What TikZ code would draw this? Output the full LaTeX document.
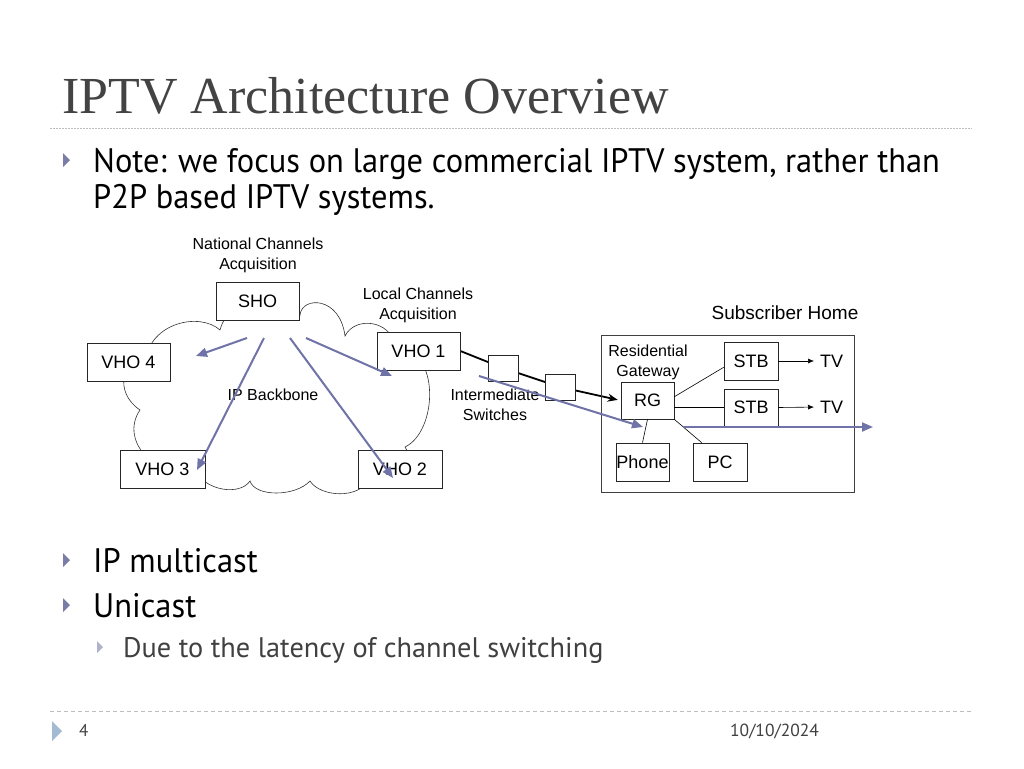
\documentclass[tikz,border=0pt]{standalone}
\usepackage{fontspec}
\setmainfont{Liberation Serif}
\newfontfamily\bodyf[FakeStretch=0.955]{PT Sans}
\newfontfamily\subf{PT Sans}
\newfontfamily\diaf{Liberation Sans}
\usetikzlibrary{arrows.meta,calc,backgrounds}
\definecolor{titlegray}{HTML}{434343}
\definecolor{bulletc}{HTML}{7A7EA6}
\definecolor{arrowc}{HTML}{6F73A8}
\definecolor{subgray}{HTML}{404040}
\definecolor{footc}{HTML}{A3BAD3}
\definecolor{rulec}{HTML}{BDBDBD}
\begin{document}
\begin{tikzpicture}[x=1pt,y=-1pt,
  box/.style={draw=black!85, line width=0.7pt, fill=white, inner sep=0pt,
    font=\diaf\fontsize{18}{20}\selectfont},
  lbl/.style={font=\diaf\fontsize{16}{20}\selectfont, align=center, inner sep=0pt},
  marrow/.style={draw=arrowc, line width=2pt, -{Triangle[length=11pt,width=9pt]}},
  thinline/.style={draw=black, line width=0.6pt},
  bodytxt/.style={font=\bodyf\fontsize{34}{40}\selectfont, anchor=base west, inner sep=0pt},
  bullet/.style={fill=bulletc}
]
\useasboundingbox (0,0) rectangle (1024,768);

% title
\node[anchor=base west, inner sep=0pt, text=titlegray, font=\fontsize{52}{56}\selectfont] (title) at (62,113) {IPTV Architecture Overview};
\draw[rulec, line width=0.8pt, dash pattern=on 1.5pt off 1.5pt] (50,128) -- (972,128);

% top bullet
\fill[bullet] (63,153) -- (70,160) -- (63,167) -- cycle;
\node[bodytxt] (note1) at (93,172) {Note: we focus on large commercial IPTV system, rather than};
\node[bodytxt] (note2) at (93,208) {P2P based IPTV systems.};

% cloud
\draw[black!80, line width=0.6pt]
  (145,362) .. controls (150,322) and (200,312) .. (220,330)
  .. controls (230,292) and (290,282) .. (300,315)
  .. controls (302,296) and (340,296) .. (345,336)
  .. controls (355,316) and (390,320) .. (395,345)
  .. controls (442,350) and (437,432) .. (405,447)
  .. controls (420,470) and (400,492) .. (370,478)
  .. controls (360,500) and (320,497) .. (310,481)
  .. controls (295,497) and (255,497) .. (250,481)
  .. controls (240,496) and (205,491) .. (195,470)
  .. controls (160,482) and (118,442) .. (140,410)
  .. controls (113,392) and (123,357) .. (145,362) -- cycle;

% labels
\node[lbl] (natl) at (258,255) {National Channels\\Acquisition};
\node[lbl] (local) at (418,305) {Local Channels\\Acquisition};
\node[lbl] (ipb) at (273,395) {IP Backbone};
\node[lbl] (inter) at (495,405) {Intermediate\\Switches};
\node[lbl, font=\diaf\fontsize{19}{22}\selectfont] (subs) at (785,313) {Subscriber Home};

% boxes
\node[box, minimum width=83pt, minimum height=38pt] (sho) at (257.5,301) {SHO};
\node[box, minimum width=83pt, minimum height=38pt] (vho4) at (128.5,362) {VHO 4};
\node[box, minimum width=83pt, minimum height=38pt] (vho1) at (418.5,351) {VHO 1};
\node[box, minimum width=85pt, minimum height=38pt] (vho3) at (162.5,469) {VHO 3};
\node[box, minimum width=84pt, minimum height=38pt] (vho2) at (400,469) {VHO 2};
\node[box, minimum width=30pt, minimum height=26pt] (sw1) at (503,368) {};
\node[box, minimum width=30pt, minimum height=26pt] (sw2) at (560,387) {};

% subscriber home
\node[draw=black!75, line width=0.7pt, minimum width=253pt, minimum height=157pt, inner sep=0pt] (home) at (727.5,413.5) {};
\node[lbl] (resg) at (648,362) {Residential\\Gateway};
\node[box, minimum width=53pt, minimum height=37pt] (rg) at (647.5,400.5) {RG};
\node[box, minimum width=54pt, minimum height=38pt] (stb1) at (751,361) {STB};
\node[box, minimum width=54pt, minimum height=37pt] (stb2) at (751,407.5) {STB};
\node[box, minimum width=53pt, minimum height=38pt] (phone) at (642.5,462) {Phone};
\node[box, minimum width=54pt, minimum height=38pt] (pc) at (720,462) {PC};
\node[font=\diaf\fontsize{18}{20}\selectfont, anchor=west, inner sep=0pt] (tv1) at (820,361) {TV};
\node[font=\diaf\fontsize{18}{20}\selectfont, anchor=west, inner sep=0pt] (tv2) at (820,407) {TV};

% black path through switches (behind switch boxes)
\begin{pgfonlayer}{background}
\fill[white] (0,0) rectangle (1024,768);
\draw[black, line width=1.8pt, -{Stealth[length=10pt,width=8pt]}, shorten >=3pt]
  (vho1.east) -- (sw1.center) -- (sw2.center) -- (rg.west);
\end{pgfonlayer}

% home connectors
\draw[thinline] (rg.8) -- (stb1.193);
\draw[thinline] (rg.east |- stb2.west) -- (stb2.west);
\draw[thinline] (rg.south) -- (phone.north);
\draw[thinline] (rg.south east) -- ($(pc.north west)+(9,0)$);
\draw[thinline, -{Latex[length=6pt,width=5pt]}, shorten >=6pt] (stb1.east) -- (tv1.west);
\draw[thinline, -{Latex[length=6pt,width=5pt]}, shorten >=6pt] (stb2.east) -- (tv2.west);

% blue arrows
\coordinate (a4s) at (247,338); \coordinate (a4e) at (196,356);
\coordinate (a3s) at (264,338); \coordinate (a3e) at (197,470);
\coordinate (a2s) at (290,338); \coordinate (a2e) at (393,478);
\coordinate (a1s) at (306,338); \coordinate (a1e) at (392,376);
\coordinate (ss) at (479,376); \coordinate (se) at (643,427);
\coordinate (hs) at (683,427); \coordinate (he) at (873,427);
\draw[marrow] (a4s) -- (a4e);
\draw[marrow] (a3s) -- (a3e);
\draw[marrow] (a2s) -- (a2e);
\draw[marrow] (a1s) -- (a1e);
\draw[marrow] (ss) -- (se);
\draw[marrow] (hs) -- (he);

% lower bullets
\fill[bullet] (63,553) -- (70,560) -- (63,567) -- cycle;
\node[bodytxt] (ipm) at (93,572) {IP multicast};
\fill[bullet] (63,598) -- (70,605) -- (63,612) -- cycle;
\node[bodytxt] (uni) at (93,617) {Unicast};
\fill[fill=bulletc!60] (97,641) -- (103,647) -- (97,653) -- cycle;
\node[anchor=base west, inner sep=0pt, text=subgray, font=\subf\fontsize{28.3}{32}\selectfont] (due) at (123,657) {Due to the latency of channel switching};

% footer
\draw[rulec, line width=0.8pt, dash pattern=on 4pt off 3pt] (50,711) -- (972,711);
\fill[footc] (52,721) -- (62,731) -- (52,741) -- cycle;
\node[font=\subf\fontsize{17}{19}\selectfont, text=subgray, anchor=base west, inner sep=0pt] (pg) at (79,736) {4};
\node[font=\subf\fontsize{17.5}{19}\selectfont, text=subgray, anchor=base west, inner sep=0pt] (date) at (730,736) {10/10/2024};
\end{tikzpicture}
\end{document}
